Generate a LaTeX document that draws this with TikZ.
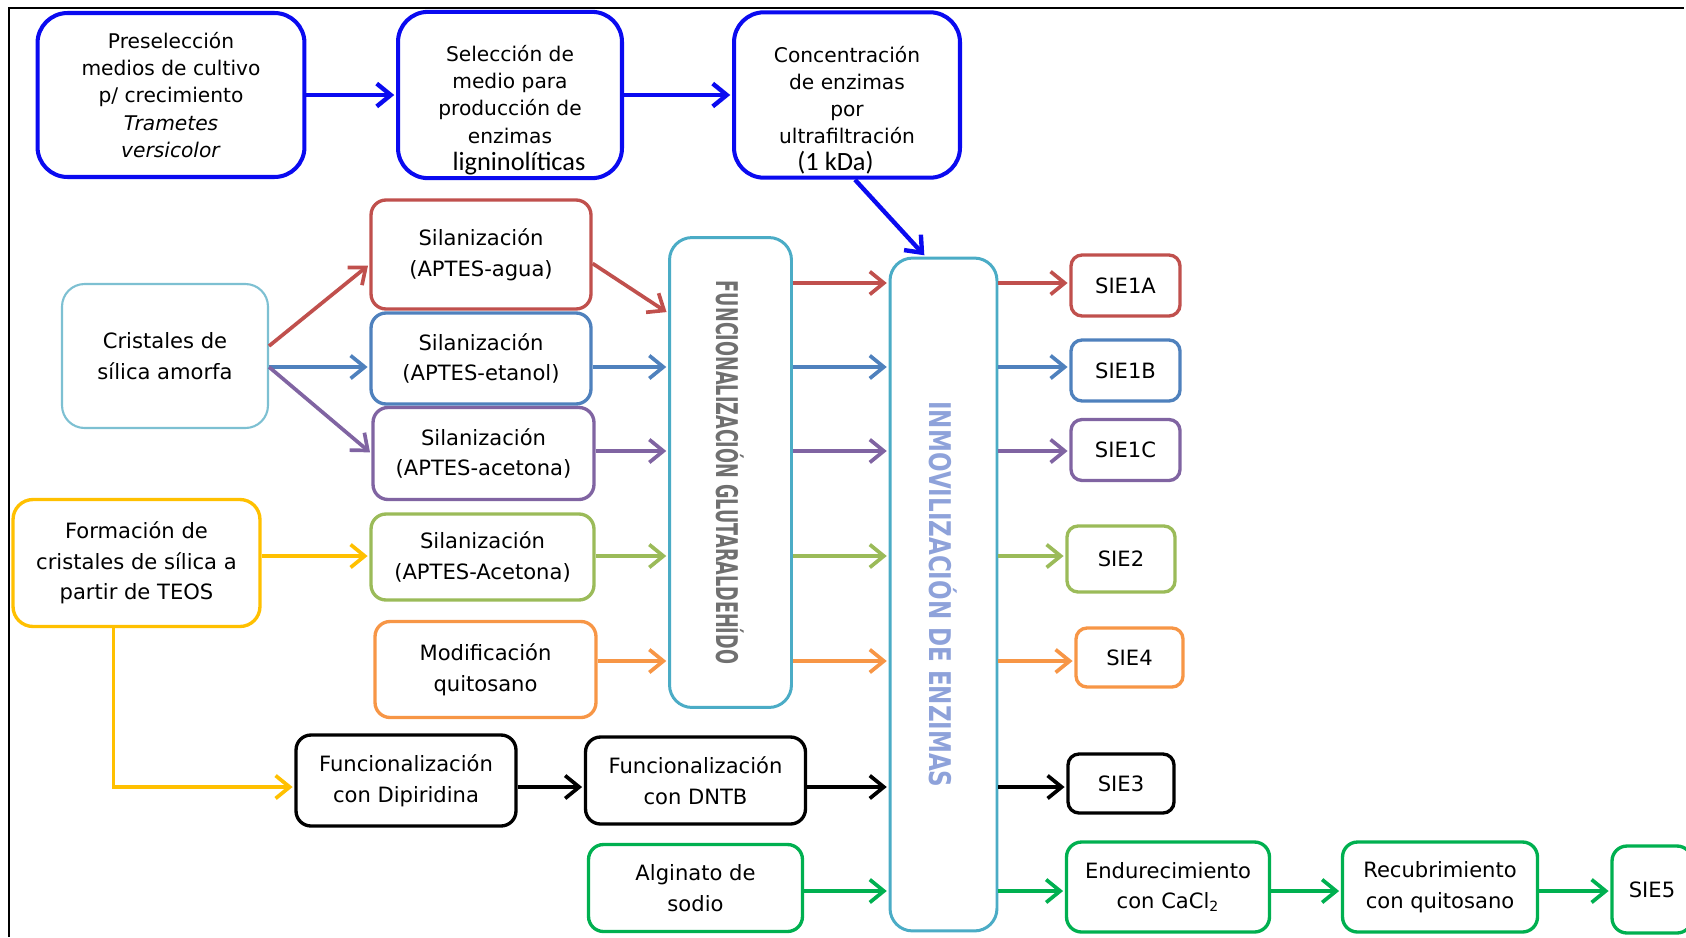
\documentclass[tikz,border=0pt]{standalone}
\usepackage{fontspec}
\setmainfont{DejaVu Sans}
\newfontfamily\calibri{Carlito}
\usepackage{graphicx}
\usepackage{tikz}
\usetikzlibrary{positioning}
\usetikzlibrary{arrows.meta}

\definecolor{ctop}{RGB}{10,10,240}
\definecolor{cagua}{RGB}{192,80,77}
\definecolor{cetanol}{RGB}{79,129,189}
\definecolor{cacetona}{RGB}{128,100,162}
\definecolor{colivo}{RGB}{155,187,89}
\definecolor{cquito}{RGB}{247,150,70}
\definecolor{caqua}{RGB}{75,172,198}
\definecolor{ccristal}{RGB}{125,192,210}
\definecolor{cteos}{RGB}{255,192,0}
\definecolor{calga}{RGB}{0,176,80}
\definecolor{cglut}{RGB}{112,112,112}
\definecolor{cinm}{RGB}{142,162,218}

\tikzset{
  paso/.style={draw, rounded corners=0.3cm, line width=1.9pt, align=center,
    fill=white, inner sep=2pt, font=\fontsize{12}{17.5}\selectfont},
  cabeza/.style={paso, draw=ctop, rounded corners=0.6cm, line width=2.3pt,
    minimum width=#1, minimum height=3.28cm, font=\fontsize{11.5}{15.4}\selectfont},
  sie/.style={paso, rounded corners=0.22cm, minimum width=2.18cm, minimum height=1.22cm}
}

\begin{document}
\begin{tikzpicture}[->,>={Straight Barb[length=8pt,width=13pt]},shorten >=1pt,
        line width=2.1pt,x=0.02cm,y=-0.02cm]

\useasboundingbox (0,0) rectangle (1686,937);
\draw[-,line width=1.2pt] (9,937) -- (9,8) -- (1686,8);

% top row
\node[cabeza=5.34cm] (pre) at (171,95) {Preselección\\medios de cultivo\\p/ crecimiento\\\textit{Trametes}\\\textit{versicolor}};
\node[cabeza=4.48cm] (sel) at (510,95) {\rule{0pt}{0.93cm}Selección de\\medio para\\producción de\\enzimas\\\rule{0.36cm}{0pt}{\calibri\fontsize{15}{15.4}\selectfont ligninolíticas}};
\node[cabeza=4.52cm] (conc) at (847,95) {\rule{0pt}{0.93cm}Concentración\\de enzimas\\por\\ultrafiltración\\{\calibri\fontsize{15}{15.4}\selectfont (1 kDa)}\rule{0.46cm}{0pt}};

% left column
\node[paso, draw=ccristal, line width=1.2pt, minimum width=4.12cm, minimum height=2.88cm, rounded corners=0.45cm] (crist) at (165,356) {Cristales de\\sílica amorfa};
\node[paso, draw=cteos, minimum width=4.94cm, minimum height=2.54cm, rounded corners=0.4cm] (teos) at (136.5,563) {Formación de\\cristales de sílica a\\partir de TEOS};

% silanizacion
\node[paso, draw=cagua, minimum width=4.4cm, minimum height=2.18cm] (sa) at (481,254.5) {Silanización\\(APTES-agua)};
\node[paso, draw=cetanol, minimum width=4.4cm, minimum height=1.82cm] (se) at (481,358.5) {Silanización\\(APTES-etanol)};
\node[paso, draw=cacetona, minimum width=4.42cm, minimum height=1.84cm] (sc) at (483.5,453.5) {Silanización\\(APTES-acetona)};
\node[paso, draw=colivo, minimum width=4.46cm, minimum height=1.72cm] (st) at (482.5,557) {Silanización\\(APTES-Acetona)};
\node[paso, draw=cquito, minimum width=4.42cm, minimum height=1.92cm] (mq) at (485.5,669.5) {Modificación\\quitosano};

% black and green rows
\node[paso, minimum width=4.4cm, minimum height=1.82cm] (dp) at (406,780.5) {Funcionalización\\con Dipiridina};
\node[paso, minimum width=4.4cm, minimum height=1.74cm] (dn) at (695.5,780.5) {Funcionalización\\con DNTB};
\node[paso, draw=calga, minimum width=4.28cm, minimum height=1.74cm] (alg) at (695.5,888) {Alginato de\\sodio};

% tall boxes
\node[paso, draw=caqua, line width=1.7pt, minimum width=2.44cm, minimum height=9.4cm, rounded corners=0.45cm] (glut) at (730.5,472.5) {};
\node[rotate=-90, text=cglut, font=\bfseries\fontsize{17}{17}\selectfont] (gluttxt) at (glut) {\scalebox{0.59}[1]{FUNCIONALIZACIÓN GLUTARALDEHÍDO}};
\node[paso, draw=caqua, line width=1.7pt, minimum width=2.14cm, minimum height=13.46cm, rounded corners=0.45cm] (inm) at (943.5,594.5) {};
\node[rotate=-90, text=cinm, font=\bfseries\fontsize{17}{17}\selectfont] (inmtxt) at (inm) {\scalebox{0.77}[1]{INMOVILIZACIÓN DE ENZIMAS}};

% results
\node[sie, draw=cagua] (s1a) at (1125.5,285.5) {SIE1A};
\node[sie, draw=cetanol] (s1b) at (1125.5,370.5) {SIE1B};
\node[sie, draw=cacetona] (s1c) at (1125.5,450) {SIE1C};
\node[sie, draw=colivo, minimum width=2.16cm, minimum height=1.32cm] (s2) at (1121,559) {SIE2};
\node[sie, draw=cquito, minimum width=2.14cm, minimum height=1.18cm] (s4) at (1129.5,657.5) {SIE4};
\node[sie, minimum width=2.12cm, minimum height=1.18cm] (s3) at (1121,783.5) {SIE3};
\node[paso, draw=calga, minimum width=4.06cm, minimum height=1.8cm] (endu) at (1168,887) {Endurecimiento\\con CaCl\textsubscript{2}};
\node[paso, draw=calga, minimum width=3.9cm, minimum height=1.8cm] (recu) at (1440,887) {Recubrimiento\\con quitosano};
\node[paso, draw=calga, minimum width=1.6cm, minimum height=1.74cm] (s5) at (1652,889.5) {SIE5};

% arrow levels
\coordinate (n1) at (0,283);
\coordinate (n2) at (0,367);
\coordinate (n3) at (0,451);
\coordinate (n4) at (0,556);
\coordinate (n5) at (0,661);
\coordinate (n6) at (0,787);
\coordinate (n7) at (0,891);

\path (pre) edge [ctop,line width=2.5pt] (sel)
      (sel) edge [ctop,line width=2.5pt] (conc)
      ([xshift=0.16cm]conc.south) edge [ctop,line width=2.5pt] ([xshift=-0.36cm]inm.north)
      ([yshift=0.2cm]crist.east) edge [cagua] ([yshift=-0.2cm]sa.west)
      (n2 -| crist.east) edge [cetanol] (n2 -| se.west)
      (n2 -| crist.east) edge [cacetona] (sc.west)
      (n4 -| teos.east) edge [cteos] (n4 -| st.west)
      ([yshift=-0.18cm]sa.east) edge [cagua] ([yshift=3.19cm]glut.west)
      (n2 -| se.east) edge [cetanol] (n2 -| glut.west)
      (n3 -| sc.east) edge [cacetona] (n3 -| glut.west)
      (n4 -| st.east) edge [colivo] (n4 -| glut.west)
      (n5 -| mq.east) edge [cquito] (n5 -| glut.west)
      (n1 -| glut.east) edge [cagua] (n1 -| inm.west)
      (n2 -| glut.east) edge [cetanol] (n2 -| inm.west)
      (n3 -| glut.east) edge [cacetona] (n3 -| inm.west)
      (n4 -| glut.east) edge [colivo] (n4 -| inm.west)
      (n5 -| glut.east) edge [cquito] (n5 -| inm.west)
      (n6 -| dp.east) edge (n6 -| dn.west)
      (n6 -| dn.east) edge (n6 -| inm.west)
      (n7 -| alg.east) edge [calga] (n7 -| inm.west)
      (n1 -| inm.east) edge [cagua] (n1 -| s1a.west)
      (n2 -| inm.east) edge [cetanol] (n2 -| s1b.west)
      (n3 -| inm.east) edge [cacetona] (n3 -| s1c.west)
      (n4 -| inm.east) edge [colivo] (n4 -| s2.west)
      (n5 -| inm.east) edge [cquito] (n5 -| s4.west)
      (n6 -| inm.east) edge (n6 -| s3.west)
      (n7 -| inm.east) edge [calga] (n7 -| endu.west)
      (n7 -| endu.east) edge [calga] (n7 -| recu.west)
      (n7 -| recu.east) edge [calga] (n7 -| s5.west);
\draw[cteos] ([xshift=-0.46cm]teos.south) |- (n6 -| dp.west);

\end{tikzpicture}
\end{document}
